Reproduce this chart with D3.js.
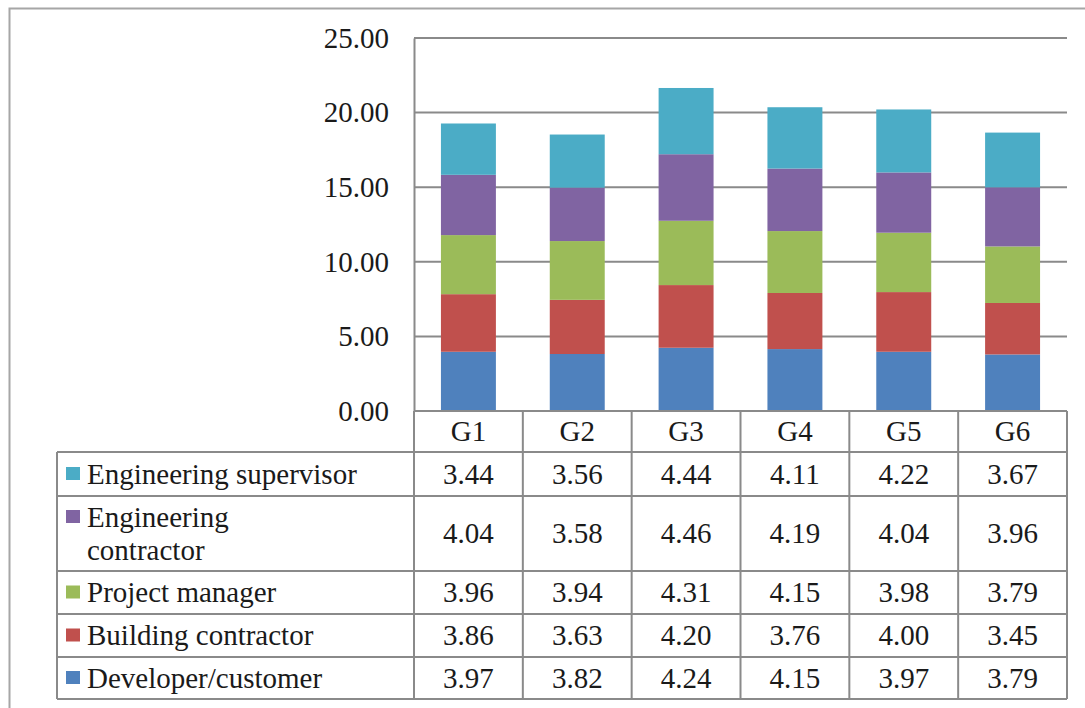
<!DOCTYPE html>
<html>
<head>
<meta charset="utf-8">
<script src="https://cdn.jsdelivr.net/npm/d3@7/dist/d3.min.js"></script>
<style>
  html, body { margin: 0; padding: 0; background: #fff; }
  svg { display: block; }
</style>
</head>
<body>
<svg id="chart" width="1085" height="708"></svg>
<script>
// Groups along the x axis
const groups = ["G1", "G2", "G3", "G4", "G5", "G6"];

// Stakeholder series, bottom of stack first
const seriesNames = ["Developer/customer", "Building contractor", "Project manager", "Engineering contractor", "Engineering supervisor"];
const seriesColors = ["#4f81bd", "#c0504d", "#9bbb59", "#8064a2", "#4bacc6"];

// Scores per group, one array per series
const developerCustomer     = [3.97, 3.82, 4.24, 4.15, 3.97, 3.79];
const buildingContractor    = [3.86, 3.63, 4.20, 3.76, 4.00, 3.45];
const projectManager        = [3.96, 3.94, 4.31, 4.15, 3.98, 3.79];
const engineeringContractor = [4.04, 3.58, 4.46, 4.19, 4.04, 3.96];
const engineeringSupervisor = [3.44, 3.56, 4.44, 4.11, 4.22, 3.67];

// Y axis tick values
const yTicks = [0, 5, 10, 15, 20, 25];

const seriesValues = [developerCustomer, buildingContractor, projectManager, engineeringContractor, engineeringSupervisor];

// Table rows as shown below the axis: top row is the top of the stack
const tableRows = seriesNames.map((n, i) => ({ name: n, color: seriesColors[i], values: seriesValues[i] })).reverse();
const rowLabelLines = {
  "Engineering contractor": ["Engineering", "contractor"]
};

const svg = d3.select("#chart");

const plotLeft = 414, plotRight = 1067, plotTop = 38, plotBottom = 411;
const tableLeft = 57;
const fontSize = 29;
const fontFamily = "'Liberation Serif', 'Times New Roman', serif";
const textColor = "#1a1a1a";
const lineColor = "#8a8a8a";

function styleText(sel) {
  return sel.style("font-family", fontFamily)
    .style("font-size", fontSize + "px")
    .style("fill", textColor);
}

// Outer chart border
svg.append("rect")
  .attr("x", 9.5).attr("y", 8.5)
  .attr("width", 1090).attr("height", 720)
  .attr("fill", "none").attr("stroke", "#a6a6a6").attr("stroke-width", 2);

const y = d3.scaleLinear().domain([0, 25]).range([plotBottom, plotTop]);
const x = d3.scaleBand().domain(groups).range([plotLeft, plotRight])
  .paddingInner(0.495).paddingOuter(0.2475);
const col = d3.scaleBand().domain(groups).range([plotLeft, plotRight]).padding(0);

// Gridlines
svg.append("g").selectAll("line").data(yTicks.filter(t => t > 0)).join("line")
  .attr("x1", plotLeft).attr("x2", plotRight)
  .attr("y1", d => y(d)).attr("y2", d => y(d))
  .attr("stroke", lineColor).attr("stroke-width", 2);

// Y axis
const yAxis = svg.append("g")
  .attr("transform", `translate(${plotLeft},0)`)
  .call(d3.axisLeft(y).tickValues(yTicks).tickFormat(d3.format(".2f")).tickSize(0).tickPadding(25));
yAxis.select(".domain").attr("stroke", lineColor).attr("stroke-width", 2);
styleText(yAxis.selectAll("text"));

// Stacked bars
const stackData = groups.map((g, gi) => {
  const row = { group: g };
  seriesNames.forEach((n, si) => { row[n] = seriesValues[si][gi]; });
  return row;
});
const stacked = d3.stack().keys(seriesNames)(stackData);

svg.append("g").selectAll("g").data(stacked).join("g")
  .attr("fill", (d, i) => seriesColors[i])
  .selectAll("rect").data(d => d).join("rect")
  .attr("x", d => x(d.data.group))
  .attr("width", x.bandwidth())
  .attr("y", d => y(d[1]))
  .attr("height", d => y(d[0]) - y(d[1]));

// Data table
const headerBottom = 452;
const rowHeights = [44, 75, 43, 43, 42];
const rowTops = [];
let acc = headerBottom;
rowHeights.forEach(h => { rowTops.push(acc); acc += h; });
const tableBottom = acc;

const table = svg.append("g");

// Header row: group names
styleText(table.selectAll("text.hdr").data(groups).join("text")
  .attr("class", "hdr")
  .attr("x", d => col(d) + col.bandwidth() / 2)
  .attr("y", (plotBottom + headerBottom) / 2)
  .attr("dy", "0.34em")
  .attr("text-anchor", "middle")
  .text(d => d));

// Horizontal rules
const hRules = [{ y: plotBottom, x1: plotLeft, x2: plotRight }]
  .concat(rowTops.map(t => ({ y: t, x1: tableLeft, x2: plotRight })))
  .concat([{ y: tableBottom, x1: tableLeft, x2: plotRight }]);
table.selectAll("line.h").data(hRules).join("line")
  .attr("class", "h")
  .attr("x1", d => d.x1).attr("x2", d => d.x2)
  .attr("y1", d => d.y).attr("y2", d => d.y)
  .attr("stroke", lineColor).attr("stroke-width", 2);

// Vertical rules
const vRules = [{ x: tableLeft, y1: headerBottom, y2: tableBottom }]
  .concat(groups.map(g => ({ x: col(g), y1: plotBottom, y2: tableBottom })))
  .concat([{ x: plotRight, y1: plotBottom, y2: tableBottom }]);
table.selectAll("line.v").data(vRules).join("line")
  .attr("class", "v")
  .attr("x1", d => d.x).attr("x2", d => d.x)
  .attr("y1", d => d.y1).attr("y2", d => d.y2)
  .attr("stroke", lineColor).attr("stroke-width", 2);

// Rows: legend key, label, values
tableRows.forEach((r, ri) => {
  const top = rowTops[ri], h = rowHeights[ri];
  const mid = top + h / 2;
  const lines = rowLabelLines[r.name] || [r.name];
  const lineGap = 33;
  const firstMid = mid - (lines.length - 1) * lineGap / 2;

  table.append("rect")
    .attr("x", 66).attr("y", firstMid - 7)
    .attr("width", 14).attr("height", 13)
    .attr("fill", r.color);

  lines.forEach((ln, li) => {
    styleText(table.append("text")
      .attr("x", 87)
      .attr("y", firstMid + li * lineGap)
      .attr("dy", "0.34em")
      .text(ln));
  });

  styleText(table.selectAll(null).data(r.values).join("text")
    .attr("x", (d, i) => col(groups[i]) + col.bandwidth() / 2)
    .attr("y", mid)
    .attr("dy", "0.34em")
    .attr("text-anchor", "middle")
    .text(d => d3.format(".2f")(d)));
});
</script>
</body>
</html>
